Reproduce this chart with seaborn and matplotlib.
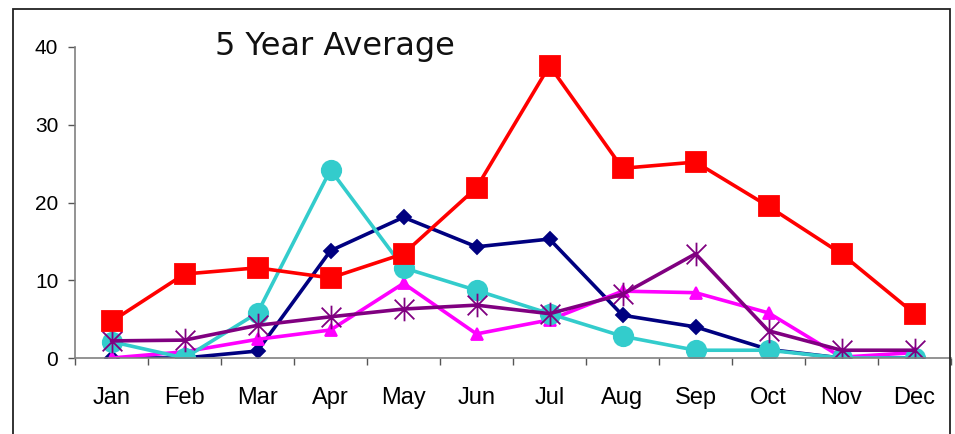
import numpy as np
import pandas as pd
import matplotlib
matplotlib.use("Agg")
import matplotlib.pyplot as plt
from matplotlib.path import Path
from matplotlib.patches import Rectangle
from matplotlib.ticker import FixedLocator
import seaborn as sns

months = ["Jan", "Feb", "Mar", "Apr", "May", "Jun",
          "Jul", "Aug", "Sep", "Oct", "Nov", "Dec"]

navy_vals = [0.0, 0.0, 0.9, 13.8, 18.1, 14.3, 15.3, 5.5, 4.0, 1.1, 0.0, 0.0]
magenta_vals = [0.0, 0.8, 2.4, 3.6, 9.6, 3.1, 4.9, 8.6, 8.4, 5.8, 0.1, 0.7]
cyan_vals = [2.1, 0.0, 5.8, 24.2, 11.6, 8.7, 5.7, 2.8, 1.0, 1.0, 0.0, 0.0]
purple_vals = [2.2, 2.3, 4.2, 5.3, 6.3, 6.8, 5.7, 8.2, 13.4, 3.5, 1.0, 1.0]
red_vals = [4.7, 10.8, 11.6, 10.3, 13.4, 21.9, 37.6, 24.4, 25.2, 19.5, 13.4, 5.7]

title = "5 Year Average"

# asterisk like the spreadsheet one: an X with a vertical bar through it
s = 0.5
ast = Path([(-s, -s), (s, s), (-s, s), (s, -s), (0, -0.6), (0, 0.6)],
           [Path.MOVETO, Path.LINETO, Path.MOVETO, Path.LINETO, Path.MOVETO, Path.LINETO])

series = [
    (navy_vals, "#000080", "D", 7),
    (magenta_vals, "#FF00FF", "^", 9),
    (cyan_vals, "#33CCCC", "o", 14),
    (purple_vals, "#800080", ast, 17),
    (red_vals, "#FF0000", "s", 14),
]

sns.set_style("white")
plt.rcParams["font.family"] = ["Liberation Sans", "DejaVu Sans"]

fig = plt.figure(figsize=(9.55, 4.34), dpi=100)
ax = fig.add_axes([75 / 955, 76 / 434, 876 / 955, (358 - 47) / 434])

xpos = np.arange(len(months))
for vals, col, mk, ms in series:
    df = pd.DataFrame({"x": xpos, "y": vals})
    sns.lineplot(data=df, x="x", y="y", ax=ax, color=col, linewidth=2.6,
                 marker=mk, markersize=ms, markeredgecolor=col,
                 markerfacecolor=col, markeredgewidth=1.3, sort=False)

ax.set_xlim(-0.5, len(months) - 0.5)
ax.set_ylim(0, 40)
ax.set_xticks(xpos)
ax.set_xticklabels(months)
ax.xaxis.set_minor_locator(FixedLocator(np.arange(-0.5, len(months), 1.0)))
ax.set_yticks([0, 10, 20, 30, 40])
ax.tick_params(axis="x", which="major", length=0, pad=21, labelsize=17, colors="black")
ax.tick_params(axis="x", which="minor", length=5, width=1, color="#555555", direction="out", bottom=True)
ax.tick_params(axis="y", length=5, width=1, color="#555555", direction="out", left=True,
               pad=7, labelsize=15, labelcolor="black")
ax.set_xlabel("")
ax.set_ylabel("")

for side in ["top", "right"]:
    ax.spines[side].set_visible(False)
for side in ["left", "bottom"]:
    ax.spines[side].set_color("#808080")
    ax.spines[side].set_linewidth(1.2)

fig.text(215 / 955, 1 - 55 / 434, title, fontsize=23, ha="left", va="baseline",
         family="DejaVu Sans", color="#111111")

# outer chart frame (bottom edge runs off the picture)
fig.patches.append(Rectangle((13 / 955, -0.1), (950 - 13) / 955, 1.1 - 9 / 434,
                             transform=fig.transFigure, fill=False,
                             edgecolor="#222222", linewidth=1.3))

fig.savefig("out.png", dpi=100)
